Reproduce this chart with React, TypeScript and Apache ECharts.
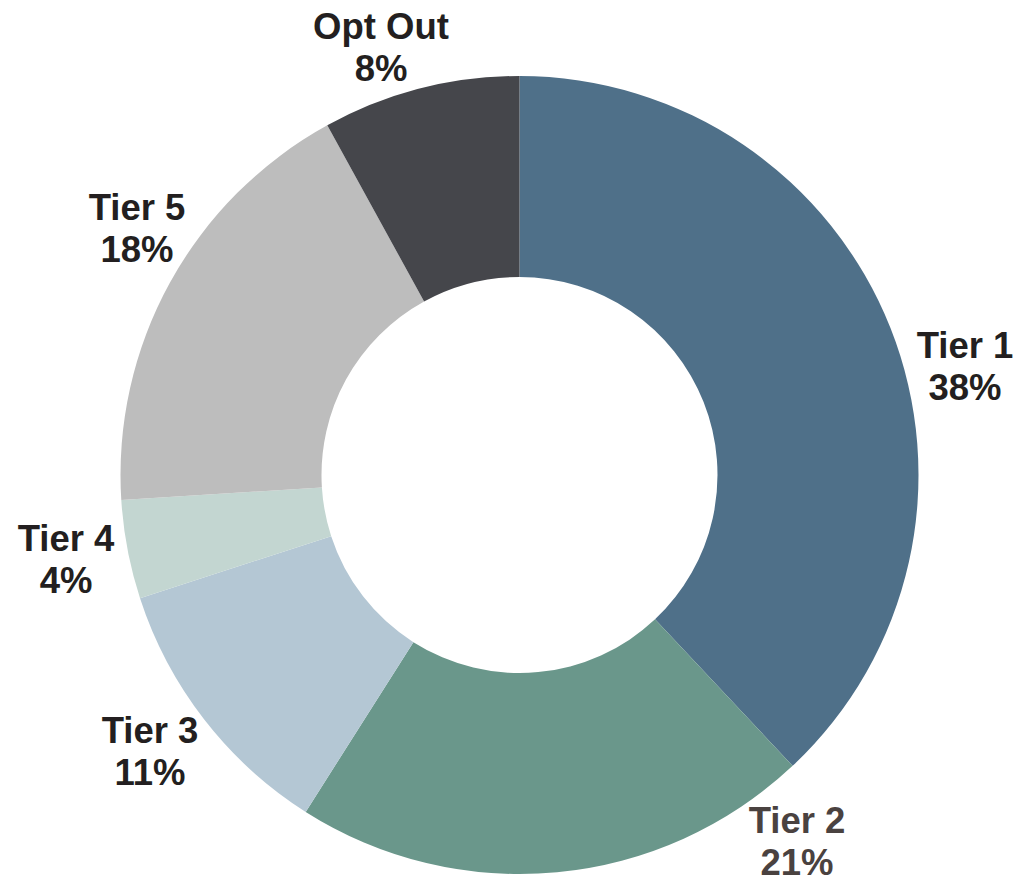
import React, { useEffect, useRef } from "react";
import * as echarts from "echarts";

const categories = ["Tier 1", "Tier 2", "Tier 3", "Tier 4", "Tier 5", "Opt Out"];
const values = [38, 21, 11, 4, 18, 8];
const colors = ["#4F7089", "#6A978B", "#B4C7D4", "#C3D6D1", "#BDBDBD", "#45464B"];
const labelColors = ["#231F20", "#4A4240", "#231F20", "#231F20", "#231F20", "#231F20"];
// label block centres (px), per category
const labelPos: [number, number][] = [
  [965, 366],
  [797, 841],
  [150, 751],
  [66, 559],
  [137, 228],
  [381, 47],
];

export default function App() {
  const ref = useRef<HTMLDivElement>(null);
  useEffect(() => {
    if (!ref.current) return;
    const chart = echarts.init(ref.current, null, { renderer: "svg" });
    chart.setOption({
      animation: false,
      backgroundColor: "#ffffff",
      series: [
        {
          type: "pie",
          center: [519.5, 475],
          radius: [198, 399],
          startAngle: 90,
          clockwise: true,
          avoidLabelOverlap: false,
          itemStyle: { borderWidth: 0 },
          label: {
            show: true,
            position: "outside",
            formatter: "{b}\n{c}%",
            fontFamily: "Liberation Sans, Arial, sans-serif",
            fontWeight: "bold",
            fontSize: 36.5,
            lineHeight: 42,
            align: "center",
          },
          labelLine: { show: false },
          labelLayout: (p: any) => ({
            x: labelPos[p.dataIndex][0],
            y: labelPos[p.dataIndex][1],
            align: "center",
            verticalAlign: "middle",
          }),
          emphasis: { disabled: true },
          data: categories.map((name, i) => ({
            name,
            value: values[i],
            itemStyle: { color: colors[i] },
            label: { color: labelColors[i] },
          })),
        },
      ],
    });
    return () => chart.dispose();
  }, []);
  return (
    <div
      ref={ref}
      style={{ position: "absolute", left: 0, top: 0, width: 1018, height: 884 }}
    />
  );
}
